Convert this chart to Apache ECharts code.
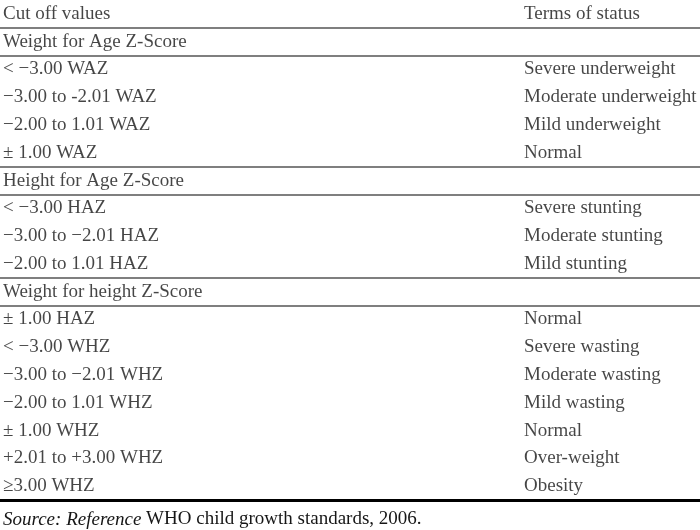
<!DOCTYPE html>
<html>
<head>
<meta charset="utf-8">
<script src="https://cdn.jsdelivr.net/npm/echarts@6/dist/echarts.min.js"></script>
<style>html,body{margin:0;padding:0;background:#fff}#c{width:700px;height:530px}</style>
</head>
<body>
<div id="c"></div>
<script>
const headers = ['Cut off values', 'Terms of status'];
const groups = ['Weight for Age Z-Score', 'Height for Age Z-Score', 'Weight for height Z-Score'];
const cutoffs = [
  ['< \u22123.00 WAZ', '\u22123.00 to -2.01 WAZ', '\u22122.00 to 1.01 WAZ', '\u00b1 1.00 WAZ'],
  ['< \u22123.00 HAZ', '\u22123.00 to \u22122.01 HAZ', '\u22122.00 to 1.01 HAZ'],
  ['\u00b1 1.00 HAZ', '< \u22123.00 WHZ', '\u22123.00 to \u22122.01 WHZ', '\u22122.00 to 1.01 WHZ', '\u00b1 1.00 WHZ', '+2.01 to +3.00 WHZ', '\u22653.00 WHZ']
];
const statuses = [
  ['Severe underweight', 'Moderate underweight', 'Mild underweight', 'Normal'],
  ['Severe stunting', 'Moderate stunting', 'Mild stunting'],
  ['Normal', 'Severe wasting', 'Moderate wasting', 'Mild wasting', 'Normal', 'Over-weight', 'Obesity']
];
const sourceItalic = 'Source: Reference';
const sourceText = 'WHO child growth standards, 2006.';

const FONT = '"Liberation Serif", "Times New Roman", serif';
const LEFT_X = 3, RIGHT_X = 524;

const leftData = [], rightData = [], seps = [];
let r = 0;
leftData.push([LEFT_X, r, headers[0]]);
rightData.push([RIGHT_X, r, headers[1]]);
r++;
groups.forEach((g, gi) => {
  seps.push(r - 0.5);
  leftData.push([LEFT_X, r, g]);
  seps.push(r + 0.5);
  r++;
  cutoffs[gi].forEach((c, k) => {
    leftData.push([LEFT_X, r, c]);
    rightData.push([RIGHT_X, r, statuses[gi][k]]);
    r++;
  });
});
const nRows = r;
const uniq = [...new Set(seps)];

const labelCfg = {
  show: true, position: 'right', distance: 0,
  fontFamily: FONT, fontSize: 19, color: '#161616',
  formatter: p => p.value[2]
};

const chart = echarts.init(document.getElementById('c'), null, {renderer: 'canvas'});
chart.setOption({
  animation: false,
  title: {
    left: 3, top: 510, padding: 0,
    text: '{i|' + sourceItalic + '} {n|' + sourceText + '}',
    textStyle: {
      fontWeight: 'normal', fontFamily: FONT, fontSize: 19,
      rich: {
        i: {fontFamily: FONT, fontSize: 19, fontStyle: 'italic', fontWeight: 'normal', color: '#161616'},
        n: {fontFamily: FONT, fontSize: 19, fontWeight: 'normal', color: '#161616'}
      }
    }
  },
  grid: {left: 0, right: 0, top: -2, height: 502},
  xAxis: {type: 'value', min: 0, max: 700, show: false},
  yAxis: {type: 'value', min: -0.5, max: nRows - 0.5, inverse: true, show: false},
  series: [
    {
      type: 'scatter', symbolSize: 0, data: leftData, label: labelCfg, silent: true,
      markLine: {
        silent: true, symbol: 'none', label: {show: false},
        lineStyle: {color: '#555', width: 1.6, type: 'solid'},
        data: uniq.map(v => ({yAxis: v})).concat([
          {yAxis: nRows - 0.5, lineStyle: {color: '#000', width: 3, type: 'solid'}}
        ])
      }
    },
    {type: 'scatter', symbolSize: 0, data: rightData, label: labelCfg, silent: true}
  ]
});
</script>
</body>
</html>
